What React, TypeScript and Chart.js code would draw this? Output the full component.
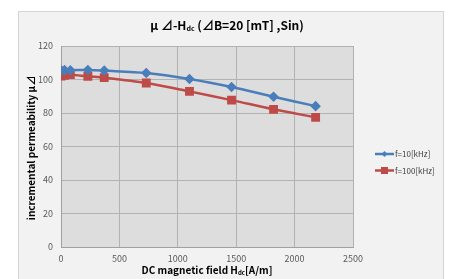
import React, { useEffect, useRef } from "react";
import { Chart, registerables } from "chart.js";

Chart.register(...registerables);

const hdc = [0, 30, 80, 230, 370, 730, 1100, 1460, 1820, 2180];
const mu10k = [105.5, 105.6, 105.5, 105.7, 105.3, 103.9, 100.3, 95.5, 89.7, 84.1];
const mu100k = [102.1, 102.5, 102.9, 101.9, 101.1, 97.9, 92.9, 87.7, 82.2, 77.4];
const seriesLabels = ["f=10[kHz]", "f=100[kHz]"];
const seriesColors = ["#4a7ebb", "#be4b48"];
const FONT = '"Noto Sans CJK JP", "Noto Sans", sans-serif';

function drawSubText(ctx: CanvasRenderingContext2D, parts: [string, boolean][], cx: number, cy: number, size: number) {
  const subSize = Math.round(size * 0.62);
  let total = 0;
  for (const [t, sub] of parts) {
    ctx.font = `bold ${sub ? subSize : size}px ${FONT}`;
    total += ctx.measureText(t).width;
  }
  let x = cx - total / 2;
  ctx.textAlign = "left";
  ctx.textBaseline = "middle";
  for (const [t, sub] of parts) {
    ctx.font = `bold ${sub ? subSize : size}px ${FONT}`;
    ctx.fillText(t, x, sub ? cy + size * 0.28 : cy);
    x += ctx.measureText(t).width;
  }
}

const decorPlugin = {
  id: "decor",
  beforeDraw(chart: any) {
    const { ctx, chartArea } = chart;
    ctx.save();
    ctx.fillStyle = "#ffffff";
    ctx.fillRect(0, 0, chart.width, chart.height);
    ctx.fillStyle = "#f2f2f2";
    ctx.fillRect(18, 11, 426, 275);
    ctx.strokeStyle = "#d4d4d4";
    ctx.lineWidth = 1;
    ctx.strokeRect(18.5, 11.5, 425, 275);
    ctx.fillStyle = "#dddddd";
    ctx.fillRect(chartArea.left, chartArea.top, chartArea.right - chartArea.left, chartArea.bottom - chartArea.top);
    ctx.restore();
  },
  afterDraw(chart: any) {
    const { ctx } = chart;
    ctx.save();
    ctx.fillStyle = "#000000";
    drawSubText(ctx, [["μ ⊿-H", false], ["dc", true], [" (⊿B=20 [mT] ,Sin)", false]], 227, 25, 12);
    drawSubText(ctx, [["DC magnetic field H", false], ["dc", true], ["[A/m]", false]], 207, 270, 10);
    ctx.translate(31, 148);
    ctx.rotate(-Math.PI / 2);
    drawSubText(ctx, [["incremental permeability μ⊿", false]], 0, 0, 10);
    ctx.restore();

    // legend
    ctx.save();
    const ys = [154, 170.5];
    for (let i = 0; i < 2; i++) {
      const y = ys[i];
      ctx.strokeStyle = seriesColors[i];
      ctx.lineWidth = 2.5;
      ctx.beginPath();
      ctx.moveTo(375, y);
      ctx.lineTo(394, y);
      ctx.stroke();
      ctx.fillStyle = seriesColors[i];
      if (i === 0) {
        ctx.beginPath();
        ctx.moveTo(384.5, y - 3);
        ctx.lineTo(387.5, y);
        ctx.lineTo(384.5, y + 3);
        ctx.lineTo(381.5, y);
        ctx.closePath();
        ctx.fill();
      } else {
        ctx.fillRect(381, y - 3.5, 7, 7);
      }
      ctx.fillStyle = "#404040";
      ctx.font = `8px ${FONT}`;
      ctx.textAlign = "left";
      ctx.textBaseline = "middle";
      ctx.fillText(seriesLabels[i], 395, y);
    }
    ctx.restore();
  },
};

export default function App() {
  const ref = useRef<HTMLCanvasElement>(null);
  useEffect(() => {
    const canvas = ref.current!;
    const chart = new Chart(canvas, {
      type: "line",
      data: {
        datasets: [
          {
            label: seriesLabels[0],
            data: hdc.map((x, i) => ({ x, y: mu10k[i] })),
            borderColor: seriesColors[0],
            backgroundColor: seriesColors[0],
            borderWidth: 2.5,
            pointStyle: "rectRot",
            pointRadius: 3.5,
            tension: 0.3,
          },
          {
            label: seriesLabels[1],
            data: hdc.map((x, i) => ({ x, y: mu100k[i] })),
            borderColor: seriesColors[1],
            backgroundColor: seriesColors[1],
            borderWidth: 2.5,
            pointStyle: "rect",
            pointRadius: 4.5,
            tension: 0.3,
          },
        ],
      },
      options: {
        animation: false,
        responsive: false,
        devicePixelRatio: 1,
        layout: { padding: { left: 31, top: 46, right: 98, bottom: 0 } },
        plugins: { legend: { display: false }, title: { display: false }, tooltip: { enabled: false } },
        scales: {
          x: {
            type: "linear",
            min: 0,
            max: 2500,
            afterFit: (s: any) => { s.height = 32; },
            ticks: { stepSize: 500, padding: 6, color: "#595959", font: { size: 9, family: FONT }, callback: (v: any) => String(v) },
            grid: { color: "#b2b2b2", drawTicks: false },
            border: { color: "#a0a0a0" },
          },
          y: {
            min: 0,
            max: 120,
            afterFit: (s: any) => { s.width = 30; },
            ticks: { stepSize: 20, padding: 8, color: "#595959", font: { size: 9, family: FONT }, callback: (v: any) => String(v) },
            grid: { color: "#b2b2b2", drawTicks: false },
            border: { color: "#a0a0a0" },
          },
        },
      },
      plugins: [decorPlugin],
    } as any);
    return () => chart.destroy();
  }, []);
  return (
    <div style={{ position: "fixed", left: 0, top: 0, width: 451, height: 279, background: "#fff" }}>
      <canvas ref={ref} width={451} height={279} style={{ display: "block", width: 451, height: 279 }} />
    </div>
  );
}
